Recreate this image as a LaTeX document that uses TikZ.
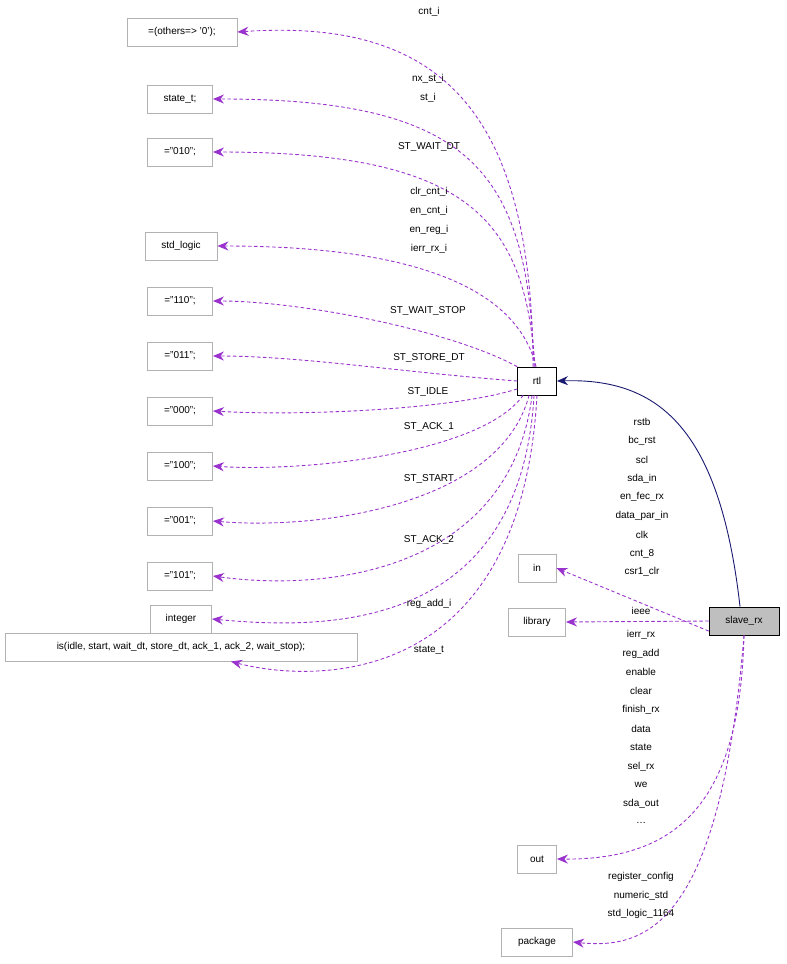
\documentclass[tikz,border=0pt]{standalone}
\usepackage{fontspec}
\setmainfont{Liberation Sans}
\usetikzlibrary{arrows.meta}

\begin{document}
\begin{tikzpicture}[x=1pt, y=-1pt, font=\fontsize{10}{12}\selectfont, line width=0.9pt]
  \tikzstyle{cls}=[draw=black!30, fill=white, minimum height=28pt, inner xsep=2pt];
  \tikzstyle{main}=[draw=black, minimum height=28pt, inner xsep=2pt];
  \tikzstyle{dep}=[draw={rgb,255:red,154;green,50;blue,205}, dashed, line cap=round,
    -{Stealth[length=11pt, width=9pt]}];
  \tikzstyle{inh}=[draw={rgb,255:red,25;green,25;blue,112},
    -{Stealth[length=11pt, width=9pt]}];
  \tikzstyle{lab}=[inner sep=0pt];
  \useasboundingbox (0,0) rectangle (787,964);
  %
  % left column
  \node[cls, minimum width=110pt] (others) at (182,32) {=(others=> '0');};
  \node[cls, minimum width=65pt] (statet) at (180,99) {state\_t;};
  \node[cls, minimum width=65pt] (v010) at (180,152) {="010";};
  \node[cls, minimum width=72pt] (stdlogic) at (181,246) {std\_logic};
  \node[cls, minimum width=65pt] (v110) at (180,301) {="110";};
  \node[cls, minimum width=65pt] (v011) at (180,356) {="011";};
  \node[cls, minimum width=65pt] (v000) at (180,411) {="000";};
  \node[cls, minimum width=65pt] (v100) at (180,466) {="100";};
  \node[cls, minimum width=65pt] (v001) at (180,521) {="001";};
  \node[cls, minimum width=65pt] (v101) at (180,576) {="101";};
  \node[cls, minimum width=61pt] (integer) at (181,619) {integer};
  \node[cls, minimum width=352pt] (isenum) at (181,647) {is(idle, start, wait\_dt, store\_dt, ack\_1, ack\_2, wait\_stop);};
  %
  % middle and right
  \node[main, minimum width=39pt] (rtl) at (537,381) {rtl};
  \node[cls, minimum width=38pt] (in) at (537,568) {in};
  \node[cls, minimum width=57pt] (library) at (537,622) {library};
  \node[cls, minimum width=39pt] (out) at (537,859) {out};
  \node[cls, minimum width=71pt] (package) at (537,942) {package};
  \node[main, fill=black!25, minimum width=70pt] (slave) at (744,621) {slave\_rx};
  %
  % rtl dependencies
  \draw[dep] ([xshift=-4pt]rtl.north) .. controls (532,110) and (440,18) .. (others.east);
  \draw[dep] ([xshift=-3pt]rtl.north) .. controls (528,170) and (470,99) .. (statet.east);
  \draw[dep] ([xshift=-2pt]rtl.north) .. controls (525,220) and (470,152) .. (v010.east);
  \draw[dep] ([xshift=-1pt]rtl.north) .. controls (520,300) and (440,246) .. (stdlogic.east);
  \draw[dep] (rtl.north west) .. controls (450,330) and (300,301) .. (v110.east);
  \draw[dep] (rtl.west) .. controls (400,372) and (300,356) .. (v011.east);
  \draw[dep] ([yshift=-8pt]rtl.west) .. controls (450,410) and (300,416) .. (v000.east);
  \draw[dep] ([xshift=6pt]rtl.south west) .. controls (480,455) and (300,472) .. (v100.east);
  \draw[dep] ([xshift=12pt]rtl.south west) .. controls (500,505) and (320,530) .. (v001.east);
  \draw[dep] ([xshift=15pt]rtl.south west) .. controls (510,570) and (330,592) .. (v101.east);
  \draw[dep] ([xshift=17pt]rtl.south west) .. controls (520,630) and (330,630) .. (integer.east);
  \draw[dep] (rtl.south) .. controls (520,700) and (300,680) .. ([xshift=50pt]isenum.south);
  %
  % slave_rx relations
  \draw[inh] ([xshift=-4pt]slave.north) .. controls (720,430) and (660,378) .. (rtl.east);
  \draw[dep] ([yshift=-10pt]slave.west) -- (in.east);
  \draw[dep] (slave.west) -- (library.east);
  \draw[dep] (slave.south) .. controls (740,800) and (680,860) .. (out.east);
  \draw[dep] (slave.south) .. controls (720,920) and (650,950) .. (package.east);
  %
  % labels
  \node[lab] (lcnt) at (429,12) {cnt\_i};
  \node[lab] (lnx) at (428,79) {nx\_st\_i};
  \node[lab] (lst) at (428,98) {st\_i};
  \node[lab] (lwdt) at (429,147) {ST\_WAIT\_DT};
  \foreach \t [count=\i] in {clr\_cnt\_i, en\_cnt\_i, en\_reg\_i, ierr\_rx\_i}
    \node[lab] (lsig\i) at (429,173+19*\i) {\t};
  \node[lab] (lwst) at (428,311) {ST\_WAIT\_STOP};
  \node[lab] (lsdt) at (429,358) {ST\_STORE\_DT};
  \node[lab] (lidle) at (428,392) {ST\_IDLE};
  \node[lab] (lack1) at (429,427) {ST\_ACK\_1};
  \node[lab] (lstart) at (429,479) {ST\_START};
  \node[lab] (lack2) at (429,540) {ST\_ACK\_2};
  \node[lab] (lreg) at (429,604) {reg\_add\_i};
  \node[lab] (lstt) at (429,650) {state\_t};
  \foreach \t [count=\i] in {rstb, bc\_rst, scl, sda\_in, en\_fec\_rx, data\_par\_in, clk, cnt\_8, csr1\_clr}
    \node[lab] (lin\i) at (642,403.5+18.75*\i) {\t};
  \node[lab] (lieee) at (641,611) {ieee};
  \foreach \t [count=\i] in {ierr\_rx, reg\_add, enable, clear, finish\_rx, data, state, sel\_rx, we, sda\_out}
    \node[lab] (lout\i) at (641,616+18.8*\i) {\t};
  \node[lab] (lmore) at (641,823) {\ldots};
  \foreach \t [count=\i] in {register\_config, numeric\_std, std\_logic\_1164}
    \node[lab] (lpkg\i) at (641,858.5+18.6*\i) {\t};
\end{tikzpicture}
\end{document}
